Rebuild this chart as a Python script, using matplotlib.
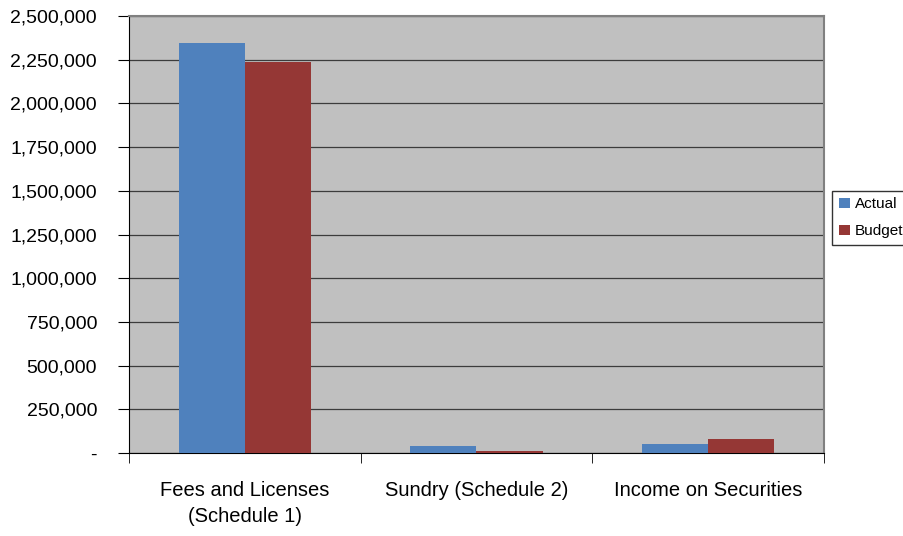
import matplotlib.pyplot as plt
import matplotlib.ticker as mticker
import numpy as np

plt.rcParams['font.family'] = ['Liberation Sans', 'DejaVu Sans']

# Dados
categorias = ["Fees and Licenses\n(Schedule 1)", "Sundry (Schedule 2)", "Income on Securities"]
actual = [2345000, 40000, 53000]
budget = [2237000, 10000, 82000]

fig = plt.figure(figsize=(9.04, 5.36), dpi=100)
ax = fig.add_axes([129 / 904, 1 - 453 / 536, 695 / 904, 437 / 536])
ax.set_facecolor('#C0C0C0')

x = np.arange(len(categorias))
w = 0.285
ax.bar(x - w / 2, actual, w, color='#4F81BD', label='Actual', zorder=3)
ax.bar(x + w / 2, budget, w, color='#953735', label='Budget', zorder=3)

# Eixos
ax.set_xlim(-0.5, len(categorias) - 0.5)
ax.set_ylim(0, 2500000)
ax.set_yticks(np.arange(0, 2500001, 250000))
ax.yaxis.set_major_formatter(mticker.FuncFormatter(lambda v, p: '-' if v == 0 else f"{v:,.0f}"))
ax.yaxis.grid(True, color='#3C3C3C', linewidth=0.9, zorder=0)
ax.tick_params(axis='y', labelsize=14, length=8, direction='out', pad=15)

ax.set_xticks(x)
ax.set_xticklabels(categorias, fontsize=14.5, linespacing=1.5)
ax.tick_params(axis='x', length=0, pad=20)
ax.set_xticks(np.arange(len(categorias) + 1) - 0.5, minor=True)
ax.tick_params(axis='x', which='minor', length=7, direction='out')

for s in ['top', 'right']:
    ax.spines[s].set_color('#808080')
    ax.spines[s].set_linewidth(1.5)
for s in ['left', 'bottom']:
    ax.spines[s].set_color('#000000')

ax.legend(loc='center left', bbox_to_anchor=(1.0115, 0.538), fontsize=11,
          frameon=True, fancybox=False, edgecolor='#000000', handlelength=0.7,
          handleheight=0.7, handletextpad=0.35, borderpad=0.45, labelspacing=0.85,
          borderaxespad=0)

fig.savefig('out.png', dpi=100, facecolor='white')
